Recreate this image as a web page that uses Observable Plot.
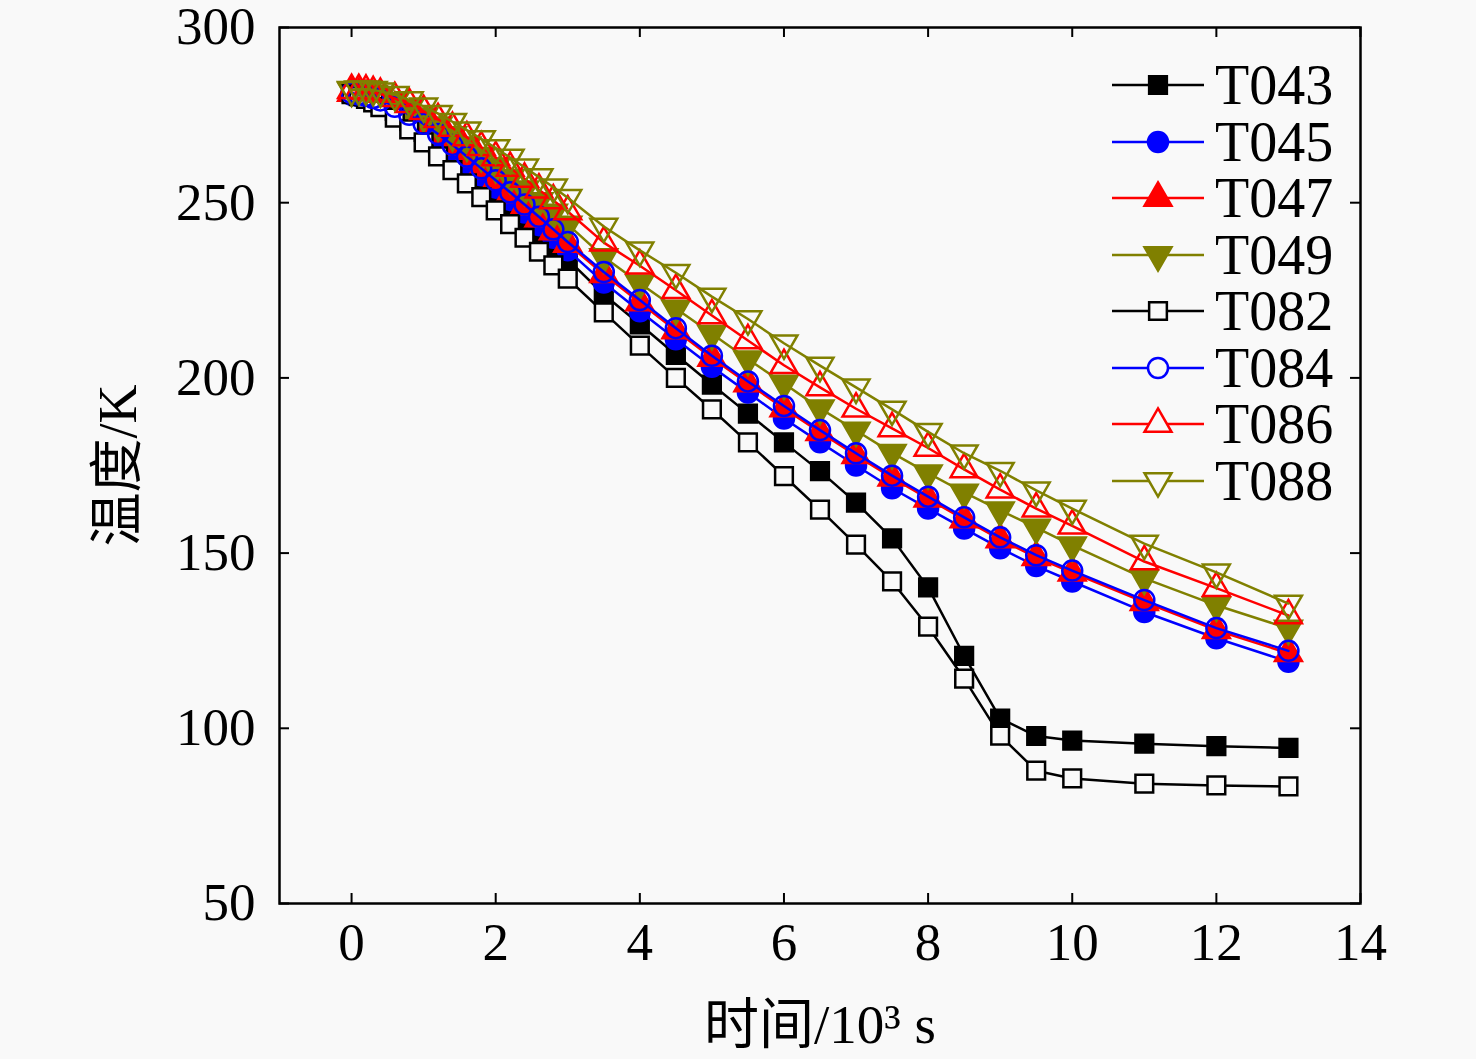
<!DOCTYPE html>
<html>
<head>
<meta charset="utf-8">
<script src="https://cdn.jsdelivr.net/npm/d3@7"></script>
<script src="https://cdn.jsdelivr.net/npm/@observablehq/plot@0.6"></script>
<style>
  html, body { margin: 0; padding: 0; background: #f9f9f9; }
  #wrap { position: relative; width: 1476px; height: 1059px; font-family: "Liberation Serif", "Noto Sans CJK SC", serif; }
  #legend { position: absolute; left: 1112px; top: 57px; }
  .row { display: flex; align-items: center; height: 56.5px; }
  .row span { font-size: 56px; margin-left: 11px; line-height: 1; color: #000; }
</style>
</head>
<body>
<div id="wrap"><div id="chart"></div><div id="legend"></div></div>
<script>
// time, 10^3 s
const time = [0, 0.1, 0.2, 0.3, 0.4, 0.6, 0.8, 1.0, 1.2, 1.4, 1.6, 1.8, 2.0, 2.2, 2.4, 2.6, 2.8, 3.0,
  3.5, 4.0, 4.5, 5.0, 5.5, 6.0, 6.5, 7.0, 7.5, 8.0, 8.5, 9.0, 9.5, 10, 11, 12, 13];

const T043 = [281.5, 281, 280.4, 279.6, 278.6, 276.2, 273.3, 270.2, 266.8, 263.3, 259.7, 256.1, 252.5, 248.9, 245.2, 241.5, 237.7, 233.8,
  223.8, 215.3, 206.6, 198.1, 189.8, 181.6, 173.4, 164.4, 154.2, 140.2, 120.7, 102.8, 97.8, 96.5, 95.6, 94.9, 94.4];
const T045 = [280.8, 280.4, 279.9, 279.2, 278.4, 276.4, 273.9, 271.1, 268, 264.7, 261.3, 257.8, 254.3, 250.8, 247.2, 243.6, 240, 236.4,
  227.2, 219, 211, 203.2, 195.8, 188.4, 181.6, 175, 168.5, 162.7, 157, 151.4, 146.3, 141.9, 133.2, 125.7, 119];
const T047 = [281.3, 280.9, 280.4, 279.8, 279, 277.1, 274.7, 272, 269.1, 266, 262.7, 259.3, 255.9, 252.4, 248.9, 245.4, 241.8, 238.2,
  229.6, 221.5, 213.5, 205.7, 198.4, 191.3, 184.5, 177.9, 171.5, 165.5, 159.6, 153.9, 148.8, 144.4, 136, 128, 121.4];
const T049 = [282, 281.9, 281.6, 281.1, 280.5, 279, 277, 274.7, 272.1, 269.3, 266.4, 263.4, 260.3, 257.1, 253.8, 250.5, 247.2, 243.8,
  234.5, 227, 219.8, 212.6, 205.3, 198.4, 191.3, 185, 178.6, 172.8, 167.3, 162.2, 157.3, 152.2, 142.8, 135.1, 128.5];
const T082 = [281, 280.4, 279.6, 278.6, 277.3, 274.3, 270.9, 267.2, 263.2, 259.3, 255.5, 251.6, 247.8, 243.9, 240, 236, 232.1, 228.3,
  218.7, 209.2, 200, 191, 181.6, 172, 162.4, 152.4, 141.9, 129, 114.2, 97.9, 87.9, 85.7, 84.2, 83.7, 83.4];
const T084 = [281.3, 280.9, 280.5, 279.9, 279.2, 277.4, 275.1, 272.5, 269.6, 266.5, 263.2, 259.8, 256.4, 253, 249.5, 246, 242.4, 238.8,
  230.2, 222.2, 214.2, 206.3, 199, 192, 185.1, 178.5, 172.1, 166.1, 160.2, 154.5, 149.4, 145, 136.6, 128.6, 122.1];
const T086 = [282.1, 282.1, 281.9, 281.5, 281, 279.8, 278.1, 276.1, 273.8, 271.3, 268.6, 265.8, 262.9, 259.9, 256.8, 253.7, 250.6, 247.5,
  238.6, 232, 225, 217.8, 210.7, 203.6, 197.3, 191.2, 185.6, 180, 173.9, 168.1, 162.7, 157.8, 147.6, 140, 132.2];
const T088 = [282.2, 282.4, 282.4, 282.2, 281.8, 280.8, 279.3, 277.5, 275.4, 273.1, 270.7, 268.2, 265.6, 262.9, 260.1, 257.3, 254.4, 251.4,
  243.2, 236.4, 230, 223.2, 216.8, 209.9, 203.5, 197.3, 191, 184.6, 178.5, 173.5, 167.9, 162.7, 152.7, 144.5, 135.6];

const xTicks = [0, 2, 4, 6, 8, 10, 12, 14];
const yTicks = [50, 100, 150, 200, 250, 300];
const xTitle = "时间/10³ s";
const yTitle = "温度/K";

const BG = "#f9f9f9";
const OLIVE = "#808000";

// inverted triangle symbol (same geometry as d3.symbolTriangle, flipped)
const symbolTriangleDown = {
  draw(context, size) {
    const sqrt3 = Math.sqrt(3);
    const y = -Math.sqrt(size / (sqrt3 * 3));
    context.moveTo(0, -y * 2);
    context.lineTo(-sqrt3 * y, y);
    context.lineTo(sqrt3 * y, y);
    context.closePath();
  }
};

// fill: "solid" = series colour, "bg" = hollow (background), "none" = open (see-through)
const series = [
  {name: "T043", values: T043, color: "#000000", symbol: d3.symbolSquare,    fill: "solid"},
  {name: "T045", values: T045, color: "#0000ff", symbol: d3.symbolCircle,    fill: "solid"},
  {name: "T047", values: T047, color: "#ff0000", symbol: d3.symbolTriangle,  fill: "solid"},
  {name: "T049", values: T049, color: OLIVE,     symbol: symbolTriangleDown, fill: "solid"},
  {name: "T082", values: T082, color: "#000000", symbol: d3.symbolSquare,    fill: "bg"},
  {name: "T084", values: T084, color: "#0000ff", symbol: d3.symbolCircle,    fill: "none"},
  {name: "T086", values: T086, color: "#ff0000", symbol: d3.symbolTriangle,  fill: "none"},
  {name: "T088", values: T088, color: OLIVE,     symbol: symbolTriangleDown, fill: "none"}
];
const fillOf = s => s.fill === "solid" ? s.color : s.fill === "bg" ? BG : "none";

const W = 1476, H = 1059, ML = 279, MR = 116, MT = 27, MB = 156;
const FW = W - ML - MR, FH = H - MT - MB;
const TICK = 10;
const R = 10;

const marks = [];
for (const s of series) {
  const rows = time.map((t, i) => ({t, v: s.values[i]}));
  marks.push(Plot.line(rows, {x: "t", y: "v", stroke: s.color, strokeWidth: 2.5}));
  marks.push(Plot.dot(rows, {x: "t", y: "v", symbol: s.symbol, r: R,
    fill: fillOf(s), stroke: s.color, strokeWidth: 2.5}));
}

const chart = Plot.plot({
  width: W, height: H,
  marginLeft: ML, marginRight: MR, marginTop: MT, marginBottom: MB,
  style: {fontFamily: '"Liberation Serif", "Noto Sans CJK SC", serif', fontSize: "53px", background: BG, color: "#000", overflow: "visible"},
  x: {domain: [-1, 14], ticks: xTicks, tickSize: 0, tickPadding: 19, label: null},
  y: {domain: [50, 300], ticks: yTicks, tickSize: 0, tickPadding: 24, label: null},
  marks: [
    ...marks,
    // inward ticks on all four sides
    Plot.tickX(xTicks, {x: d => d, insetTop: FH - TICK, stroke: "#000", strokeWidth: 2}),
    Plot.tickX(xTicks, {x: d => d, insetBottom: FH - TICK, stroke: "#000", strokeWidth: 2}),
    Plot.tickY(yTicks, {y: d => d, insetRight: FW - TICK, stroke: "#000", strokeWidth: 2}),
    Plot.tickY(yTicks, {y: d => d, insetLeft: FW - TICK, stroke: "#000", strokeWidth: 2}),
    Plot.frame({stroke: "#000", strokeWidth: 2.5}),
    Plot.text([xTitle], {frameAnchor: "bottom", dy: 122, fontSize: 55, textAnchor: "middle", lineAnchor: "middle"}),
    Plot.text([yTitle], {frameAnchor: "left", dx: -161, rotate: -90, fontSize: 54, textAnchor: "middle", lineAnchor: "middle"})
  ]
});
document.getElementById("chart").appendChild(chart);

// legend
const legend = d3.select("#legend");
for (const s of series) {
  const row = legend.append("div").attr("class", "row");
  const svg = row.append("svg").attr("width", 92).attr("height", 56);
  svg.append("line").attr("x1", 0).attr("x2", 92).attr("y1", 28).attr("y2", 28)
    .attr("stroke", s.color).attr("stroke-width", 2.5);
  svg.append("path")
    .attr("d", d3.symbol(s.symbol, Math.PI * R * R)())
    .attr("transform", "translate(46,28)")
    .attr("fill", s.fill === "none" ? BG : fillOf(s))
    .attr("stroke", s.color).attr("stroke-width", 2.5);
  row.append("span").text(s.name);
}
</script>
</body>
</html>
